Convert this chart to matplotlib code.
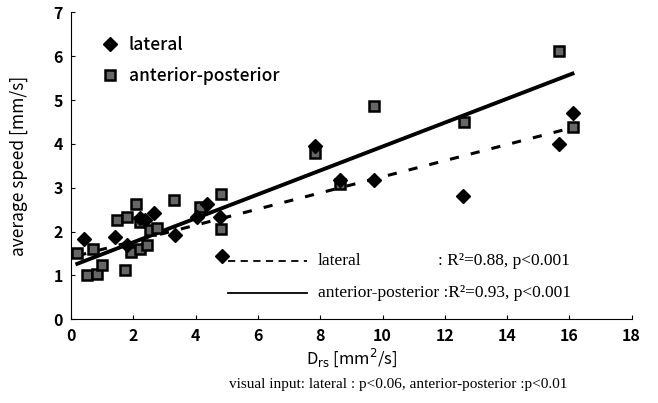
import numpy as np
import matplotlib.pyplot as plt
from matplotlib.lines import Line2D

# lateral sway (diamonds)
lat_x = [0.42, 1.41, 1.78, 2.2, 2.37, 2.67, 3.33, 4.03, 4.35, 4.78, 4.85,
         7.82, 8.62, 9.72, 12.6, 15.67, 16.12]
lat_y = [1.82, 1.87, 1.69, 2.3, 2.26, 2.43, 1.92, 2.34, 2.64, 2.34, 1.45,
         3.95, 3.18, 3.17, 2.81, 4.0, 4.71]

# anterior-posterior sway (squares)
ap_x = [0.18, 0.5, 0.72, 0.82, 0.98, 1.46, 1.73, 1.78, 1.94, 2.08, 2.21,
        2.21, 2.43, 2.53, 2.75, 3.31, 4.13, 4.81, 4.83,
        7.82, 8.62, 9.72, 12.63, 15.67, 16.1]
ap_y = [1.5, 1.0, 1.61, 1.04, 1.23, 2.26, 1.12, 2.34, 1.54, 2.64, 1.61,
        2.22, 1.69, 2.03, 2.07, 2.73, 2.56, 2.85, 2.05,
        3.8, 3.08, 4.86, 4.5, 6.13, 4.39]

# regression lines (intercept, slope)
fit_range = [0.2, 16.1]
lat_fit = (1.41, 0.184)
ap_fit = (1.21, 0.273)

xticks = [0, 2, 4, 6, 8, 10, 12, 14, 16, 18]
yticks = [0, 1, 2, 3, 4, 5, 6, 7]

sans = ['Noto Sans CJK JP', 'DejaVu Sans']
serif = 'Liberation Serif'

fig = plt.figure(figsize=(6.58, 4.03), dpi=100)
ax = fig.add_axes([0.108, 0.208, 0.852, 0.761])

fx = np.array(fit_range)
ax.plot(fx, lat_fit[0] + lat_fit[1] * fx, color='black', lw=2.2,
        linestyle=(0, (3, 4)))
ax.plot(fx, ap_fit[0] + ap_fit[1] * fx, color='black', lw=2.8)

ax.plot(ap_x, ap_y, 's', ms=7.5, mfc='#666666', mec='black', mew=1.8)
ax.plot(lat_x, lat_y, 'D', ms=7, mfc='black', mec='black')

ax.set_xlim(0, 18)
ax.set_ylim(0, 7)
ax.set_xticks(xticks)
ax.set_yticks(yticks)
ax.spines['top'].set_visible(False)
ax.spines['right'].set_visible(False)
ax.tick_params(direction='in', length=3, width=0.8, pad=6, labelsize=11.5)
for lab in ax.get_xticklabels() + ax.get_yticklabels():
    lab.set_family(sans)
    lab.set_fontweight('bold')

ax.set_ylabel('average speed [mm/s]', family=sans, fontsize=12.5, labelpad=18)
ax.set_xlabel(r'D$_{\rm rs}$ [mm$^2$/s]', family=sans, fontsize=12, labelpad=2)

# marker legend at the top left
handles = [Line2D([], [], marker='D', ls='', ms=7, mfc='black', mec='black'),
           Line2D([], [], marker='s', ls='', ms=7.5, mfc='#666666', mec='black', mew=1.8)]
leg = ax.legend(handles, ['lateral', 'anterior-posterior'], loc='upper left',
                bbox_to_anchor=(0.01, 0.975), frameon=False, handletextpad=0.1,
                labelspacing=0.75, prop={'family': sans, 'size': 12.5})
for t in leg.get_texts():
    t.set_fontweight('medium')

# regression legend
tr = ax.transAxes
ax.plot([0.28, 0.42], [0.19, 0.19], color='black', lw=1.3,
        linestyle=(0, (4, 3)), transform=tr)
ax.plot([0.28, 0.42], [0.085, 0.085], color='black', lw=1.3, transform=tr)
ax.text(0.44, 0.19, 'lateral', transform=tr, family=serif, fontsize=12.5, va='center')
ax.text(0.655, 0.19, ': R²=0.88, p<0.001', transform=tr, family=serif,
        fontsize=12.5, va='center')
ax.text(0.44, 0.085, 'anterior-posterior :R²=0.93, p<0.001', transform=tr,
        family=serif, fontsize=12.5, va='center')

fig.text(0.605, 0.045, 'visual input: lateral : p<0.06, anterior-posterior :p<0.01',
         family=serif, fontsize=11, ha='center', va='center')

fig.savefig('out.png', dpi=100)
